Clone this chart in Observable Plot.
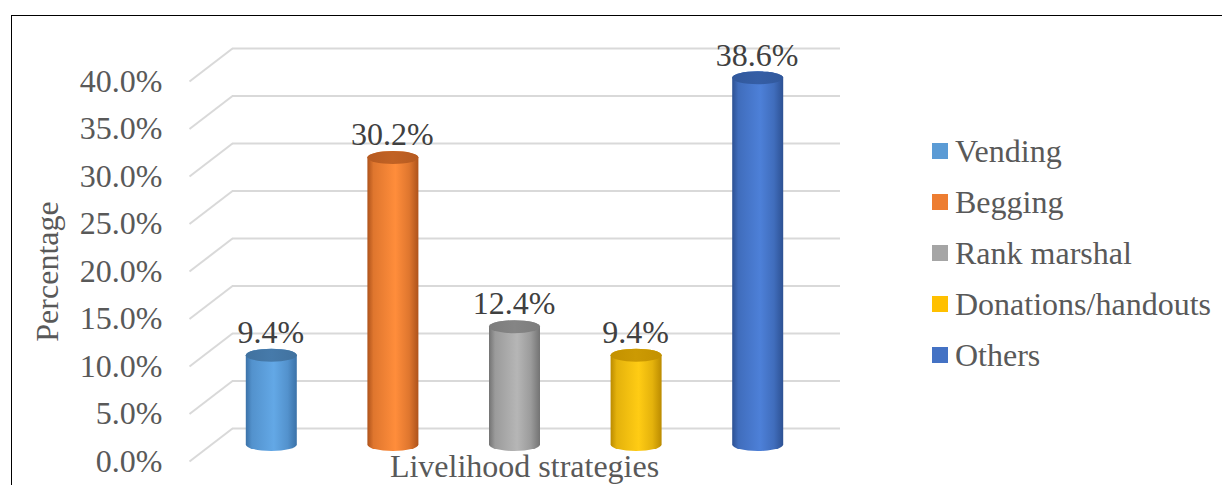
<!DOCTYPE html>
<html>
<head>
<meta charset="utf-8">
<script src="https://cdn.jsdelivr.net/npm/d3@7"></script>
<script src="https://cdn.jsdelivr.net/npm/@observablehq/plot@0.6"></script>
<style>
  html, body { margin: 0; padding: 0; background: #fff; }
  #wrap { position: relative; width: 1222px; height: 485px; overflow: hidden;
          font-family: "Liberation Serif", "Times New Roman", serif; }
  #wrap svg { position: absolute; left: 0; top: 0; }
  #border { position: absolute; left: 11px; top: 15px; width: 1300px; height: 600px;
            border: 1.5px solid #000; box-sizing: border-box; pointer-events: none; }
  #legend { position: absolute; left: 932px; top: 0; color: #595959; font-size: 32px;
            font-family: "Liberation Serif", "Times New Roman", serif; }
  .row { position: absolute; left: 0; height: 50px; display: flex; align-items: center; white-space: nowrap; }
  .sw { width: 16px; height: 16px; margin-right: 7px; flex: none; }
</style>
</head>
<body>
<div id="wrap"></div>
<script>
// ---- data ----
const categories = ["Vending", "Begging", "Rank marshal", "Donations/handouts", "Others"];
const values = [9.4, 30.2, 12.4, 9.4, 38.6];
const yTicks = [0, 5, 10, 15, 20, 25, 30, 35, 40];

// ---- styles ----
const legendColors = ["#5B9BD5", "#ED7D31", "#A5A5A5", "#FFC000", "#4472C4"];
const bodyDark  = ["#3B72A8", "#AE531B", "#737373", "#BB8B00", "#2D5193"];
const bodyLight = ["#63A8E6", "#FF8D3B", "#B6B6B6", "#FFCC14", "#4D80D8"];
const topFill   = ["#41729F", "#B65A20", "#7C7C7C", "#C39100", "#31589C"];

const FONT = "Liberation Serif";
const FS = 32;
const W = 1222, H = 485;
const mL = 232, mR = 382, mT = 81, mB = 24;
const depthX = 43, depthY = 33;           // 3D depth offset in pixels
const barW = 51, capR = 6.5;
const stepPx = (W - mL - mR) / categories.length;
const pxPerX = categories.length / (W - mL - mR);
const pxPerY = 40 / (H - mT - mB);

const data = categories.map((c, i) => ({i, category: c, value: values[i]}));

const marks = [
  // back-wall gridlines
  Plot.ruleY(yTicks, {y: d => d, stroke: "#D9D9D9", strokeWidth: 2, dy: -depthY}),
  // side-wall diagonals
  Plot.link(yTicks, {
    x1: () => -0.5, y1: d => d,
    x2: () => -0.5 - depthX * pxPerX, y2: d => d - depthY * pxPerY,
    stroke: "#D9D9D9", strokeWidth: 2, dy: -depthY
  }),
  Plot.axisY(yTicks, {
    tickSize: 0, tickPadding: 70, label: null,
    tickFormat: d => d.toFixed(1) + "%",
    fontSize: FS, fill: "#595959", fontFamily: FONT
  }),
  Plot.text(["Percentage"], {
    frameAnchor: "left", textAnchor: "middle", lineAnchor: "middle",
    rotate: -90, dx: -185, fontSize: FS, fill: "#595959", fontFamily: FONT
  }),
  Plot.text(["Livelihood strategies"], {
    frameAnchor: "bottom", textAnchor: "middle", lineAnchor: "middle",
    dx: -12, dy: 5, fontSize: FS, fill: "#595959", fontFamily: FONT
  })
];

const inset = (stepPx - barW) / 2;
data.forEach(d => {
  // cylinder body
  marks.push(Plot.rect([d], {
    x1: v => v.i - 0.5, x2: v => v.i + 0.5, y1: () => 0, y2: v => v.value,
    insetLeft: inset, insetRight: inset, insetTop: -capR, insetBottom: -capR,
    rx: barW / 2, ry: capR,
    dx: -depthX / 2, dy: -depthY / 2,
    fill: `url(#body${d.i})`
  }));
  // cylinder top cap
  marks.push(Plot.rect([d], {
    x1: v => v.i - 0.5, x2: v => v.i + 0.5, y1: v => v.value, y2: v => v.value,
    insetLeft: inset, insetRight: inset, insetTop: -capR, insetBottom: -capR,
    rx: barW / 2, ry: capR,
    dx: -depthX / 2, dy: -depthY / 2,
    fill: `url(#top${d.i})`
  }));
});

// data labels
marks.push(Plot.text(data, {
  x: "i", y: "value", text: d => d.value.toFixed(1) + "%",
  dx: -depthX / 2 - 1, dy: -depthY / 2 - 23,
  lineAnchor: "middle",
  fontSize: FS, fill: "#404040", fontFamily: FONT
}));

const chart = Plot.plot({
  width: W, height: H,
  marginLeft: mL, marginRight: mR, marginTop: mT, marginBottom: mB,
  style: {fontFamily: FONT, fontSize: FS + "px", background: "#fff", overflow: "visible"},
  x: {type: "linear", domain: [-0.5, categories.length - 0.5], axis: null},
  y: {domain: [0, 40], axis: null},
  marks
});

// gradients
const NS = "http://www.w3.org/2000/svg";
const defs = document.createElementNS(NS, "defs");
function grad(id, stops) {
  const g = document.createElementNS(NS, "linearGradient");
  g.setAttribute("id", id);
  g.setAttribute("x1", "0"); g.setAttribute("x2", "1");
  g.setAttribute("y1", "0"); g.setAttribute("y2", "0");
  stops.forEach(([o, c]) => {
    const s = document.createElementNS(NS, "stop");
    s.setAttribute("offset", o); s.setAttribute("stop-color", c);
    g.appendChild(s);
  });
  defs.appendChild(g);
}
categories.forEach((c, i) => {
  const mid = d3.interpolateRgb(bodyDark[i], bodyLight[i])(0.6);
  grad("body" + i, [[0, bodyDark[i]], [0.12, mid], [0.55, bodyLight[i]], [0.82, mid], [1, bodyDark[i]]]);
  const tl = d3.interpolateRgb(topFill[i], bodyLight[i])(0.15);
  grad("top" + i, [[0, topFill[i]], [0.5, tl], [1, topFill[i]]]);
});
chart.insertBefore(defs, chart.firstChild);

const wrap = document.getElementById("wrap");
wrap.appendChild(chart);

// legend
const legend = document.createElement("div");
legend.id = "legend";
const rowCenter0 = 151, rowStep = 51;
categories.forEach((c, i) => {
  const row = document.createElement("div");
  row.className = "row";
  row.style.top = (rowCenter0 + i * rowStep - 25) + "px";
  const sw = document.createElement("span");
  sw.className = "sw";
  sw.style.background = legendColors[i];
  const tx = document.createElement("span");
  tx.textContent = c;
  row.appendChild(sw); row.appendChild(tx);
  legend.appendChild(row);
});
wrap.appendChild(legend);

const border = document.createElement("div");
border.id = "border";
wrap.appendChild(border);
</script>
</body>
</html>
